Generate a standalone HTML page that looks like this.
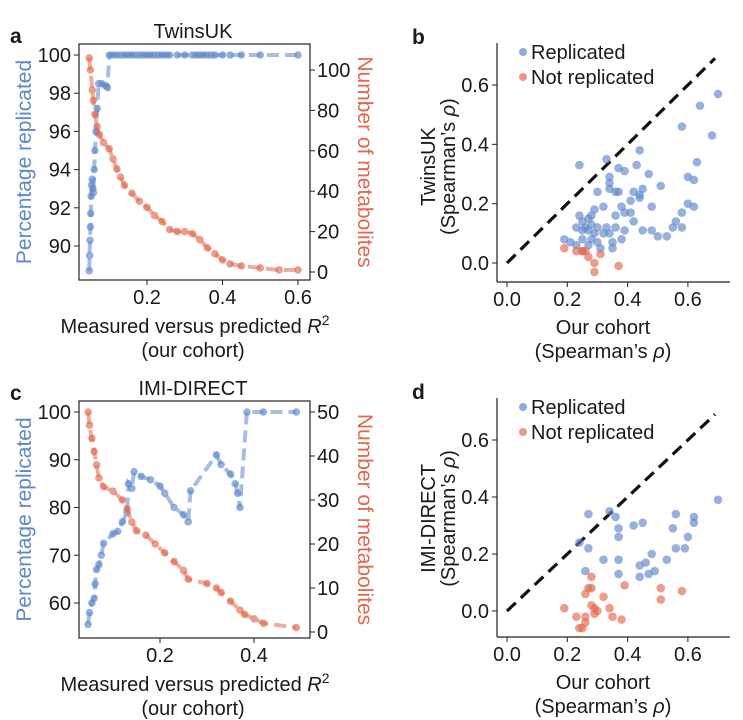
<!DOCTYPE html>
<html><head><meta charset="utf-8">
<style>
html,body{margin:0;padding:0;background:#fff;}
svg{display:block;font-family:"Liberation Sans",Arial,sans-serif;}
</style></head>
<body>
<svg id="fig" width="743" height="720" viewBox="0 0 743 720" xmlns="http://www.w3.org/2000/svg">
<g id="layer"></g>
</svg>
<script>
// ---------- data ----------
const aBlueX=[0.047,0.048,0.049,0.05,0.051,0.052,0.053,0.055,0.057,0.058,0.06,0.062,0.065,0.068,0.072,0.08,0.09,0.095,0.1,0.11,0.12,0.13,0.14,0.15,0.16,0.17,0.18,0.19,0.2,0.21,0.22,0.23,0.24,0.25,0.26,0.28,0.3,0.32,0.33,0.34,0.35,0.36,0.37,0.38,0.4,0.42,0.45,0.5,0.6];
const aBlueY=[88.7,89.5,90.3,91,91.7,92.6,93.2,93.5,93,92.8,94,95,96,97.2,98.5,98.5,98.4,98.3,100,100,100,100,100,100,100,100,100,100,100,100,100,100,100,100,100,100,100,100,100,100,100,100,100,100,100,100,100,100,100];
const aRedX=[0.047,0.05,0.055,0.058,0.062,0.068,0.074,0.085,0.1,0.11,0.12,0.13,0.14,0.16,0.18,0.2,0.22,0.24,0.26,0.28,0.3,0.32,0.34,0.36,0.38,0.4,0.42,0.45,0.5,0.55,0.6];
const aRedY=[106,100,90,85,78,72,68,64,61,56,51,47,43,39,35,32,28,25,21,20,20,19,16,12,9,6,4,3,2,1,1];
const cBlueX=[0.047,0.05,0.055,0.06,0.062,0.065,0.07,0.075,0.08,0.1,0.11,0.12,0.13,0.133,0.14,0.145,0.16,0.18,0.2,0.21,0.23,0.25,0.26,0.265,0.32,0.33,0.35,0.36,0.365,0.37,0.385,0.42,0.49];
const cBlueY=[55.5,58,60,61,64,67,68,70,72.5,74.5,75,77,79,85,84,87.5,86.5,85.8,84.5,83,80,78.5,77,83.5,91,89,87,85,83,80,100,100,100];
const cRedX=[0.047,0.05,0.055,0.06,0.065,0.07,0.08,0.1,0.12,0.13,0.14,0.15,0.17,0.19,0.21,0.23,0.25,0.26,0.3,0.32,0.33,0.35,0.37,0.38,0.4,0.42,0.49];
const cRedY=[50,47,44,41,38,35,33,32,30,28,25,23,22,20,18,16,14,12,11,10,9,7,5,4,3,2,1];
const bRepX=[0.24,0.33,0.44,0.70,0.64,0.58,0.68,0.63,0.43,0.37,0.39,0.47,0.34,0.60,0.62,0.34,0.34,0.51,0.45,0.42,0.44,0.36,0.37,0.30,0.44,0.41,0.48,0.60,0.62,0.32,0.29,0.38,0.39,0.41,0.36,0.28,0.24,0.27,0.58,0.42,0.56,0.55,0.58,0.28,0.25,0.23,0.26,0.30,0.33,0.36,0.27,0.34,0.39,0.45,0.48,0.53,0.50,0.32,0.29,0.25,0.19,0.21,0.35,0.38,0.28,0.23,0.27,0.31,0.35,0.30,0.25];
const bRepY=[0.33,0.35,0.38,0.57,0.53,0.46,0.43,0.34,0.33,0.32,0.31,0.30,0.29,0.29,0.28,0.27,0.25,0.26,0.25,0.24,0.23,0.24,0.24,0.24,0.22,0.21,0.19,0.20,0.19,0.19,0.18,0.19,0.17,0.17,0.16,0.16,0.16,0.15,0.17,0.14,0.14,0.12,0.12,0.13,0.14,0.12,0.12,0.12,0.12,0.12,0.11,0.10,0.11,0.11,0.11,0.09,0.09,0.10,0.10,0.08,0.08,0.07,0.07,0.08,0.08,0.06,0.06,0.05,0.05,0.07,0.11];
const bNotX=[0.19,0.23,0.25,0.26,0.25,0.27,0.31,0.29,0.29,0.37];
const bNotY=[0.05,0.04,0.04,0.04,0.04,0.02,0.03,0.00,-0.03,-0.01];
const dRepX=[0.27,0.34,0.36,0.45,0.56,0.62,0.62,0.70,0.42,0.37,0.55,0.37,0.60,0.24,0.27,0.56,0.59,0.48,0.32,0.37,0.53,0.46,0.44,0.49,0.26,0.37,0.44,0.47];
const dRepY=[0.34,0.35,0.33,0.31,0.34,0.33,0.31,0.39,0.30,0.29,0.29,0.26,0.26,0.24,0.22,0.22,0.22,0.20,0.18,0.18,0.18,0.17,0.16,0.14,0.14,0.13,0.12,0.13];
const dNotX=[0.28,0.27,0.28,0.26,0.32,0.39,0.51,0.58,0.51,0.19,0.28,0.29,0.30,0.29,0.34,0.35,0.38,0.23,0.26,0.26,0.25,0.24];
const dNotY=[0.12,0.08,0.08,0.06,0.05,0.09,0.08,0.07,0.04,0.01,0.02,0.01,0.00,-0.01,0.01,-0.02,-0.03,-0.02,-0.02,-0.04,-0.06,-0.06];
const aXTicks=[0.2,0.4,0.6], aLTicks=[90,92,94,96,98,100], aRTicks=[0,20,40,60,80,100];
const cXTicks=[0.2,0.4], cLTicks=[60,70,80,90,100], cRTicks=[0,10,20,30,40,50];
const sTicks=[0.0,0.2,0.4,0.6];

const BLUE="#5f87c9", RED="#e2694e";
const FS=20;
const NS="http://www.w3.org/2000/svg";
const L=document.getElementById('layer');
function mk(tag,attrs,parent){const e=document.createElementNS(NS,tag);for(const k in attrs)e.setAttribute(k,attrs[k]);(parent||L).appendChild(e);return e;}
function txt(s,x,y,o,parent){const t=mk('text',Object.assign({x:x,y:y,'font-size':FS,fill:'#1a1a1a'},o||{}),parent);t.textContent=s;return t;}
function lin(d0,d1,r0,r1){return v=>r0+(v-d0)*(r1-r0)/(d1-d0);}
function fmt(v){return v.toFixed(1);}

function series(xs,ys,sx,sy,color,name,parent){
  const g=mk('g',{},parent);
  
  
  let d='';xs.forEach((x,i)=>{d+=(i?'L':'M')+sx(x).toFixed(1)+' '+sy(ys[i]).toFixed(1);});
  const p=mk('path',{d:d,fill:'none',stroke:color,'stroke-width':4,'stroke-dasharray':'12 6','stroke-opacity':0.55},g);
  
  
  xs.forEach((x,i)=>{const c=mk('circle',{cx:sx(x),cy:sy(ys[i]),r:3.8,fill:color,'fill-opacity':0.65},g);
    
    });
}
function dualPanel(o){
  const g=mk('g',{});
  
  
  const sx=lin(0,0.2,o.x0,o.x02), sl=lin(o.l0v,o.l1v,o.l0p,o.l1p), sr=lin(o.r0v,o.r1v,o.r0p,o.r1p);
  const box=mk('rect',{x:79,y:o.top,width:231,height:o.bot-o.top,fill:'none',stroke:'#222','stroke-width':1.2},g);
  
  
  o.xt.forEach(v=>{mk('line',{x1:sx(v),x2:sx(v),y1:o.bot,y2:o.bot+5,stroke:'#222'},g);
    const t=txt(fmt(v),sx(v),o.bot+24,{'text-anchor':'middle'},g);
    });
  o.lt.forEach(v=>{mk('line',{x1:74,x2:79,y1:sl(v),y2:sl(v),stroke:'#222'},g);
    const t=txt(String(v),71,sl(v)+7,{'text-anchor':'end'},g);
    });
  o.rt.forEach(v=>{mk('line',{x1:310,x2:315,y1:sr(v),y2:sr(v),stroke:'#222'},g);
    const t=txt(String(v),317,sr(v)+7,{},g);
    });
  series(o.bx,o.by,sx,sl,BLUE,'percentage-series',g);
  series(o.rx,o.ry,sx,sr,RED,'metabolite-count-series',g);
  const mid=(o.top+o.bot)/2;
  let t=txt(o.title,193,o.top-6,{'text-anchor':'middle'},g);
  t=txt(o.letter,10,o.top-1,{'font-weight':'bold','font-size':21},g);
  t=txt('Percentage replicated',0,0,{fill:BLUE,'text-anchor':'middle',transform:`translate(31 ${mid}) rotate(-90)`,'font-size':21},g);
  t=txt('Number of metabolites',0,0,{fill:RED,'text-anchor':'middle',transform:`translate(358 ${mid}) rotate(90)`,'font-size':21},g);
  t=mk('text',{x:195,y:o.bot+53,'font-size':FS,'text-anchor':'middle',fill:'#1a1a1a'},g);
  t.innerHTML='Measured versus predicted <tspan font-style="italic">R</tspan><tspan dy="-8" font-size="14">2</tspan>';
  
  t=txt('(our cohort)',193,o.bot+77,{'text-anchor':'middle'},g);
}
dualPanel({name:'panel-a',letter:'a',title:'TwinsUK',top:44,bot:280,x0:71.5,x02:147,l0v:90,l1v:100,l0p:246,l1p:55,r0v:0,r1v:100,r0p:272,r1p:70,
  xt:aXTicks,lt:aLTicks,rt:aRTicks,bx:aBlueX,by:aBlueY,rx:aRedX,ry:aRedY});
dualPanel({name:'panel-c',letter:'c',title:'IMI-DIRECT',top:401,bot:638,x0:66,x02:160,l0v:60,l1v:100,l0p:603,l1p:412,r0v:0,r1v:50,r0p:632,r1p:412,
  xt:cXTicks,lt:cLTicks,rt:cRTicks,bx:cBlueX,by:cBlueY,rx:cRedX,ry:cRedY});

function scatterPanel(o){
  const g=mk('g',{});
  
  
  const sx=lin(0,0.2,507,567.3), sy=lin(0,0.6,o.y0,o.y06);
  mk('line',{x1:497,x2:497,y1:o.top,y2:o.bot,stroke:'#222','stroke-width':1.2},g);
  mk('line',{x1:497,x2:730,y1:o.bot,y2:o.bot,stroke:'#222','stroke-width':1.2},g);
  sTicks.forEach(v=>{
    mk('line',{x1:492,x2:497,y1:sy(v),y2:sy(v),stroke:'#222'},g);
    let t=txt(fmt(v),489,sy(v)+7,{'text-anchor':'end'},g);
    mk('line',{x1:sx(v),x2:sx(v),y1:o.bot,y2:o.bot+5,stroke:'#222'},g);
    t=txt(fmt(v),sx(v),o.bot+24,{'text-anchor':'middle'},g);
  });
  const dl=mk('line',{x1:sx(0),y1:sy(0),x2:sx(0.69),y2:sy(0.69),stroke:'#111','stroke-width':3.2,'stroke-dasharray':'12 7'},g);
  
  [[o.rx,o.ry,BLUE,'replicated-point'],[o.nx,o.ny,RED,'not-replicated-point']].forEach(s=>{
    s[0].forEach((x,i)=>{const c=mk('circle',{cx:sx(x),cy:sy(s[1][i]),r:4.3,fill:s[2],'fill-opacity':0.65},g);
      
      });
  });
  [[BLUE,'Replicated',o.leg],[RED,'Not replicated',o.leg+25]].forEach(l=>{
    const lg=mk('g',{},g);
    
    
    mk('circle',{cx:523,cy:l[2],r:4,fill:l[0],'fill-opacity':0.7},lg);
    txt(l[1],531,l[2]+7,{'font-size':20},lg);
  });
  let t=txt(o.letter,412,o.top+1,{'font-weight':'bold','font-size':21},g);
  const mid=(sy(-0.05)+sy(0.7))/2;
  t=txt(o.ylab,0,0,{'text-anchor':'middle',transform:`translate(435 ${mid}) rotate(-90)`},g);
  t=mk('text',{x:0,y:0,'font-size':FS,'text-anchor':'middle',fill:'#1a1a1a',transform:`translate(455 ${mid}) rotate(-90)`},g);
  t.innerHTML='(Spearman’s <tspan font-style="italic">ρ</tspan>)';
  t=txt('Our cohort',603,o.bot+52,{'text-anchor':'middle'},g);
  t=mk('text',{x:603,y:o.bot+76,'font-size':FS,'text-anchor':'middle',fill:'#1a1a1a'},g);
  t.innerHTML='(Spearman’s <tspan font-style="italic">ρ</tspan>)';
}
scatterPanel({name:'panel-b',letter:'b',ylab:'TwinsUK',top:43,bot:282,y0:263,y06:85,leg:52,rx:bRepX,ry:bRepY,nx:bNotX,ny:bNotY});
scatterPanel({name:'panel-d',letter:'d',ylab:'IMI-DIRECT',top:398,bot:637,y0:611,y06:440,leg:407,rx:dRepX,ry:dRepY,nx:dNotX,ny:dNotY});
</script>
</body></html>
